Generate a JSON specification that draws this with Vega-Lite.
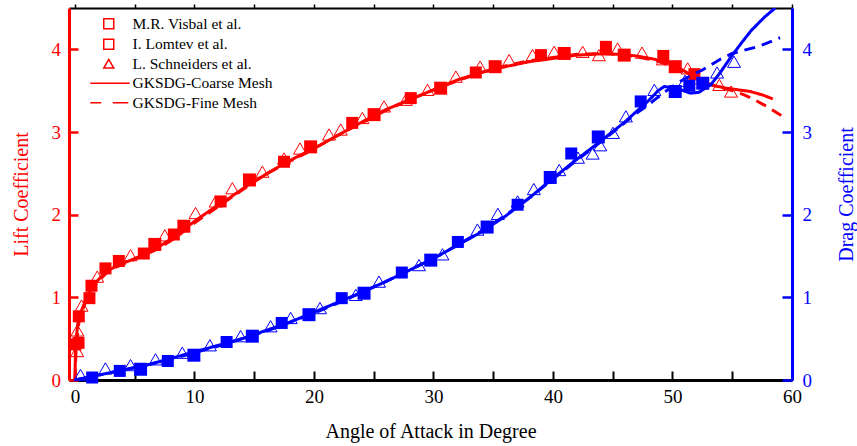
{
 "$schema": "https://vega.github.io/schema/vega-lite/v6.json",
 "width": 723, "height": 372,
 "autosize": {"type": "none"},
 "padding": {"left": 69, "top": 8, "right": 65, "bottom": 66},
 "background": "white",
 "config": {"view": {"stroke": null}, "font": "Liberation Serif",
  "axis": {"grid": false, "labelFont": "Liberation Serif", "titleFont": "Liberation Serif", "labelFontSize": 19, "titleFontSize": 20, "titleFontWeight": "normal", "labelFlush": false, "labelOverlap": false}},
 "data": {"values": [
  {"coef":"Lift","source":"M.R. Visbal et al.","aoa":0.04,"value":0.43},
  {"coef":"Lift","source":"M.R. Visbal et al.","aoa":0.3,"value":0.45},
  {"coef":"Lift","source":"M.R. Visbal et al.","aoa":0.32,"value":0.77},
  {"coef":"Lift","source":"M.R. Visbal et al.","aoa":1.21,"value":0.99},
  {"coef":"Lift","source":"M.R. Visbal et al.","aoa":1.38,"value":1.14},
  {"coef":"Lift","source":"M.R. Visbal et al.","aoa":2.55,"value":1.35},
  {"coef":"Lift","source":"M.R. Visbal et al.","aoa":3.67,"value":1.44},
  {"coef":"Lift","source":"M.R. Visbal et al.","aoa":5.76,"value":1.53},
  {"coef":"Lift","source":"M.R. Visbal et al.","aoa":8.27,"value":1.76},
  {"coef":"Lift","source":"M.R. Visbal et al.","aoa":12.19,"value":2.16},
  {"coef":"Lift","source":"M.R. Visbal et al.","aoa":17.49,"value":2.64},
  {"coef":"Lift","source":"M.R. Visbal et al.","aoa":23.2,"value":3.11},
  {"coef":"Lift","source":"M.R. Visbal et al.","aoa":28.1,"value":3.41},
  {"coef":"Lift","source":"M.R. Visbal et al.","aoa":33.54,"value":3.72},
  {"coef":"Lift","source":"M.R. Visbal et al.","aoa":38.99,"value":3.93},
  {"coef":"Lift","source":"M.R. Visbal et al.","aoa":44.43,"value":4.03},
  {"coef":"Lift","source":"M.R. Visbal et al.","aoa":49.23,"value":3.92},
  {"coef":"Lift","source":"M.R. Visbal et al.","aoa":51.83,"value":3.70},
  {"coef":"Lift","source":"I. Lomtev et al.","aoa":6.68,"value":1.64},
  {"coef":"Lift","source":"I. Lomtev et al.","aoa":9.11,"value":1.86},
  {"coef":"Lift","source":"I. Lomtev et al.","aoa":14.6,"value":2.42},
  {"coef":"Lift","source":"I. Lomtev et al.","aoa":19.72,"value":2.82},
  {"coef":"Lift","source":"I. Lomtev et al.","aoa":25.03,"value":3.21},
  {"coef":"Lift","source":"I. Lomtev et al.","aoa":30.6,"value":3.53},
  {"coef":"Lift","source":"I. Lomtev et al.","aoa":35.16,"value":3.79},
  {"coef":"Lift","source":"I. Lomtev et al.","aoa":40.94,"value":3.95},
  {"coef":"Lift","source":"I. Lomtev et al.","aoa":45.96,"value":3.93},
  {"coef":"Lift","source":"I. Lomtev et al.","aoa":50.23,"value":3.79},
  {"coef":"Lift","source":"L. Schneiders et al.","aoa":0.18,"value":0.35},
  {"coef":"Lift","source":"L. Schneiders et al.","aoa":0.2,"value":0.6},
  {"coef":"Lift","source":"L. Schneiders et al.","aoa":0.55,"value":0.9},
  {"coef":"Lift","source":"L. Schneiders et al.","aoa":1.86,"value":1.25},
  {"coef":"Lift","source":"L. Schneiders et al.","aoa":4.65,"value":1.51},
  {"coef":"Lift","source":"L. Schneiders et al.","aoa":7.52,"value":1.75},
  {"coef":"Lift","source":"L. Schneiders et al.","aoa":10.09,"value":2.02},
  {"coef":"Lift","source":"L. Schneiders et al.","aoa":11.77,"value":2.16},
  {"coef":"Lift","source":"L. Schneiders et al.","aoa":13.17,"value":2.32},
  {"coef":"Lift","source":"L. Schneiders et al.","aoa":15.68,"value":2.52},
  {"coef":"Lift","source":"L. Schneiders et al.","aoa":17.49,"value":2.68},
  {"coef":"Lift","source":"L. Schneiders et al.","aoa":18.83,"value":2.80},
  {"coef":"Lift","source":"L. Schneiders et al.","aoa":21.26,"value":2.97},
  {"coef":"Lift","source":"L. Schneiders et al.","aoa":22.24,"value":3.03},
  {"coef":"Lift","source":"L. Schneiders et al.","aoa":24.05,"value":3.17},
  {"coef":"Lift","source":"L. Schneiders et al.","aoa":25.86,"value":3.31},
  {"coef":"Lift","source":"L. Schneiders et al.","aoa":27.68,"value":3.39},
  {"coef":"Lift","source":"L. Schneiders et al.","aoa":29.5,"value":3.51},
  {"coef":"Lift","source":"L. Schneiders et al.","aoa":31.87,"value":3.67},
  {"coef":"Lift","source":"L. Schneiders et al.","aoa":33.9,"value":3.79},
  {"coef":"Lift","source":"L. Schneiders et al.","aoa":36.33,"value":3.87},
  {"coef":"Lift","source":"L. Schneiders et al.","aoa":38.29,"value":3.93},
  {"coef":"Lift","source":"L. Schneiders et al.","aoa":40.1,"value":3.97},
  {"coef":"Lift","source":"L. Schneiders et al.","aoa":42.48,"value":3.97},
  {"coef":"Lift","source":"L. Schneiders et al.","aoa":43.84,"value":3.93},
  {"coef":"Lift","source":"L. Schneiders et al.","aoa":45.41,"value":4.01},
  {"coef":"Lift","source":"L. Schneiders et al.","aoa":47.45,"value":3.96},
  {"coef":"Lift","source":"L. Schneiders et al.","aoa":49.18,"value":3.88},
  {"coef":"Lift","source":"L. Schneiders et al.","aoa":51.27,"value":3.77},
  {"coef":"Lift","source":"L. Schneiders et al.","aoa":52.05,"value":3.65},
  {"coef":"Lift","source":"L. Schneiders et al.","aoa":53.92,"value":3.57},
  {"coef":"Lift","source":"L. Schneiders et al.","aoa":54.9,"value":3.49},
  {"coef":"Lift","source":"GKSDG-Coarse Mesh","aoa":0,"value":0},
  {"coef":"Lift","source":"GKSDG-Coarse Mesh","aoa":0.05,"value":0.44},
  {"coef":"Lift","source":"GKSDG-Coarse Mesh","aoa":0.3,"value":0.75},
  {"coef":"Lift","source":"GKSDG-Coarse Mesh","aoa":0.9,"value":0.97},
  {"coef":"Lift","source":"GKSDG-Coarse Mesh","aoa":1.3,"value":1.1},
  {"coef":"Lift","source":"GKSDG-Coarse Mesh","aoa":2,"value":1.22},
  {"coef":"Lift","source":"GKSDG-Coarse Mesh","aoa":2.6,"value":1.31},
  {"coef":"Lift","source":"GKSDG-Coarse Mesh","aoa":3.5,"value":1.38},
  {"coef":"Lift","source":"GKSDG-Coarse Mesh","aoa":4.5,"value":1.44},
  {"coef":"Lift","source":"GKSDG-Coarse Mesh","aoa":5.5,"value":1.5},
  {"coef":"Lift","source":"GKSDG-Coarse Mesh","aoa":7,"value":1.61},
  {"coef":"Lift","source":"GKSDG-Coarse Mesh","aoa":8.5,"value":1.75},
  {"coef":"Lift","source":"GKSDG-Coarse Mesh","aoa":10,"value":1.92},
  {"coef":"Lift","source":"GKSDG-Coarse Mesh","aoa":11.5,"value":2.07},
  {"coef":"Lift","source":"GKSDG-Coarse Mesh","aoa":13,"value":2.21},
  {"coef":"Lift","source":"GKSDG-Coarse Mesh","aoa":14.5,"value":2.36},
  {"coef":"Lift","source":"GKSDG-Coarse Mesh","aoa":16,"value":2.49},
  {"coef":"Lift","source":"GKSDG-Coarse Mesh","aoa":17.5,"value":2.62},
  {"coef":"Lift","source":"GKSDG-Coarse Mesh","aoa":19,"value":2.73},
  {"coef":"Lift","source":"GKSDG-Coarse Mesh","aoa":20.5,"value":2.84},
  {"coef":"Lift","source":"GKSDG-Coarse Mesh","aoa":22,"value":2.96},
  {"coef":"Lift","source":"GKSDG-Coarse Mesh","aoa":24,"value":3.12},
  {"coef":"Lift","source":"GKSDG-Coarse Mesh","aoa":26,"value":3.27},
  {"coef":"Lift","source":"GKSDG-Coarse Mesh","aoa":28,"value":3.39},
  {"coef":"Lift","source":"GKSDG-Coarse Mesh","aoa":30,"value":3.51},
  {"coef":"Lift","source":"GKSDG-Coarse Mesh","aoa":32,"value":3.63},
  {"coef":"Lift","source":"GKSDG-Coarse Mesh","aoa":34,"value":3.72},
  {"coef":"Lift","source":"GKSDG-Coarse Mesh","aoa":36,"value":3.79},
  {"coef":"Lift","source":"GKSDG-Coarse Mesh","aoa":38,"value":3.85},
  {"coef":"Lift","source":"GKSDG-Coarse Mesh","aoa":40,"value":3.89},
  {"coef":"Lift","source":"GKSDG-Coarse Mesh","aoa":42,"value":3.93},
  {"coef":"Lift","source":"GKSDG-Coarse Mesh","aoa":44,"value":3.945},
  {"coef":"Lift","source":"GKSDG-Coarse Mesh","aoa":45.5,"value":3.94},
  {"coef":"Lift","source":"GKSDG-Coarse Mesh","aoa":47,"value":3.92},
  {"coef":"Lift","source":"GKSDG-Coarse Mesh","aoa":48.5,"value":3.88},
  {"coef":"Lift","source":"GKSDG-Coarse Mesh","aoa":49.5,"value":3.84},
  {"coef":"Lift","source":"GKSDG-Coarse Mesh","aoa":50.5,"value":3.78},
  {"coef":"Lift","source":"GKSDG-Coarse Mesh","aoa":51.3,"value":3.71},
  {"coef":"Lift","source":"GKSDG-Coarse Mesh","aoa":52,"value":3.65},
  {"coef":"Lift","source":"GKSDG-Coarse Mesh","aoa":52.7,"value":3.6},
  {"coef":"Lift","source":"GKSDG-Coarse Mesh","aoa":53.5,"value":3.56},
  {"coef":"Lift","source":"GKSDG-Coarse Mesh","aoa":54.5,"value":3.53},
  {"coef":"Lift","source":"GKSDG-Coarse Mesh","aoa":55.5,"value":3.51},
  {"coef":"Lift","source":"GKSDG-Coarse Mesh","aoa":56.5,"value":3.49},
  {"coef":"Lift","source":"GKSDG-Coarse Mesh","aoa":57.5,"value":3.45},
  {"coef":"Lift","source":"GKSDG-Coarse Mesh","aoa":58.4,"value":3.4},
  {"coef":"Lift","source":"GKSDG-Fine Mesh","aoa":0,"value":0},
  {"coef":"Lift","source":"GKSDG-Fine Mesh","aoa":0.1,"value":0.4},
  {"coef":"Lift","source":"GKSDG-Fine Mesh","aoa":0.35,"value":0.72},
  {"coef":"Lift","source":"GKSDG-Fine Mesh","aoa":0.9,"value":0.95},
  {"coef":"Lift","source":"GKSDG-Fine Mesh","aoa":1.3,"value":1.08},
  {"coef":"Lift","source":"GKSDG-Fine Mesh","aoa":2,"value":1.2},
  {"coef":"Lift","source":"GKSDG-Fine Mesh","aoa":2.6,"value":1.29},
  {"coef":"Lift","source":"GKSDG-Fine Mesh","aoa":3.5,"value":1.37},
  {"coef":"Lift","source":"GKSDG-Fine Mesh","aoa":4.5,"value":1.43},
  {"coef":"Lift","source":"GKSDG-Fine Mesh","aoa":5.5,"value":1.49},
  {"coef":"Lift","source":"GKSDG-Fine Mesh","aoa":7,"value":1.59},
  {"coef":"Lift","source":"GKSDG-Fine Mesh","aoa":8.5,"value":1.73},
  {"coef":"Lift","source":"GKSDG-Fine Mesh","aoa":10,"value":1.9},
  {"coef":"Lift","source":"GKSDG-Fine Mesh","aoa":11.5,"value":2.05},
  {"coef":"Lift","source":"GKSDG-Fine Mesh","aoa":13,"value":2.2},
  {"coef":"Lift","source":"GKSDG-Fine Mesh","aoa":14.5,"value":2.35},
  {"coef":"Lift","source":"GKSDG-Fine Mesh","aoa":16,"value":2.49},
  {"coef":"Lift","source":"GKSDG-Fine Mesh","aoa":17.5,"value":2.61},
  {"coef":"Lift","source":"GKSDG-Fine Mesh","aoa":19,"value":2.72},
  {"coef":"Lift","source":"GKSDG-Fine Mesh","aoa":20.5,"value":2.84},
  {"coef":"Lift","source":"GKSDG-Fine Mesh","aoa":22,"value":2.96},
  {"coef":"Lift","source":"GKSDG-Fine Mesh","aoa":24,"value":3.11},
  {"coef":"Lift","source":"GKSDG-Fine Mesh","aoa":26,"value":3.26},
  {"coef":"Lift","source":"GKSDG-Fine Mesh","aoa":28,"value":3.39},
  {"coef":"Lift","source":"GKSDG-Fine Mesh","aoa":30,"value":3.51},
  {"coef":"Lift","source":"GKSDG-Fine Mesh","aoa":32,"value":3.62},
  {"coef":"Lift","source":"GKSDG-Fine Mesh","aoa":34,"value":3.72},
  {"coef":"Lift","source":"GKSDG-Fine Mesh","aoa":36,"value":3.8},
  {"coef":"Lift","source":"GKSDG-Fine Mesh","aoa":38,"value":3.86},
  {"coef":"Lift","source":"GKSDG-Fine Mesh","aoa":40,"value":3.9},
  {"coef":"Lift","source":"GKSDG-Fine Mesh","aoa":42,"value":3.94},
  {"coef":"Lift","source":"GKSDG-Fine Mesh","aoa":44,"value":3.95},
  {"coef":"Lift","source":"GKSDG-Fine Mesh","aoa":45.5,"value":3.94},
  {"coef":"Lift","source":"GKSDG-Fine Mesh","aoa":47,"value":3.91},
  {"coef":"Lift","source":"GKSDG-Fine Mesh","aoa":48.5,"value":3.87},
  {"coef":"Lift","source":"GKSDG-Fine Mesh","aoa":49.5,"value":3.82},
  {"coef":"Lift","source":"GKSDG-Fine Mesh","aoa":50.5,"value":3.76},
  {"coef":"Lift","source":"GKSDG-Fine Mesh","aoa":51.3,"value":3.7},
  {"coef":"Lift","source":"GKSDG-Fine Mesh","aoa":52,"value":3.64},
  {"coef":"Lift","source":"GKSDG-Fine Mesh","aoa":53,"value":3.58},
  {"coef":"Lift","source":"GKSDG-Fine Mesh","aoa":54,"value":3.54},
  {"coef":"Lift","source":"GKSDG-Fine Mesh","aoa":55,"value":3.5},
  {"coef":"Lift","source":"GKSDG-Fine Mesh","aoa":56,"value":3.45},
  {"coef":"Lift","source":"GKSDG-Fine Mesh","aoa":57,"value":3.38},
  {"coef":"Lift","source":"GKSDG-Fine Mesh","aoa":58,"value":3.3},
  {"coef":"Lift","source":"GKSDG-Fine Mesh","aoa":59.1,"value":3.2},
  {"coef":"Drag","source":"M.R. Visbal et al.","aoa":1.44,"value":0.03},
  {"coef":"Drag","source":"M.R. Visbal et al.","aoa":3.75,"value":0.11},
  {"coef":"Drag","source":"M.R. Visbal et al.","aoa":7.77,"value":0.23},
  {"coef":"Drag","source":"M.R. Visbal et al.","aoa":12.69,"value":0.46},
  {"coef":"Drag","source":"M.R. Visbal et al.","aoa":17.3,"value":0.69},
  {"coef":"Drag","source":"M.R. Visbal et al.","aoa":22.32,"value":0.99},
  {"coef":"Drag","source":"M.R. Visbal et al.","aoa":27.35,"value":1.30},
  {"coef":"Drag","source":"M.R. Visbal et al.","aoa":32.04,"value":1.67},
  {"coef":"Drag","source":"M.R. Visbal et al.","aoa":37.04,"value":2.12},
  {"coef":"Drag","source":"M.R. Visbal et al.","aoa":41.53,"value":2.74},
  {"coef":"Drag","source":"M.R. Visbal et al.","aoa":47.34,"value":3.37},
  {"coef":"Drag","source":"M.R. Visbal et al.","aoa":51.41,"value":3.56},
  {"coef":"Drag","source":"I. Lomtev et al.","aoa":5.49,"value":0.13},
  {"coef":"Drag","source":"I. Lomtev et al.","aoa":9.95,"value":0.30},
  {"coef":"Drag","source":"I. Lomtev et al.","aoa":14.84,"value":0.53},
  {"coef":"Drag","source":"I. Lomtev et al.","aoa":19.58,"value":0.79},
  {"coef":"Drag","source":"I. Lomtev et al.","aoa":24.19,"value":1.05},
  {"coef":"Drag","source":"I. Lomtev et al.","aoa":29.77,"value":1.45},
  {"coef":"Drag","source":"I. Lomtev et al.","aoa":34.49,"value":1.85},
  {"coef":"Drag","source":"I. Lomtev et al.","aoa":39.77,"value":2.45},
  {"coef":"Drag","source":"I. Lomtev et al.","aoa":43.79,"value":2.94},
  {"coef":"Drag","source":"I. Lomtev et al.","aoa":50.23,"value":3.49},
  {"coef":"Drag","source":"I. Lomtev et al.","aoa":52.53,"value":3.59},
  {"coef":"Drag","source":"L. Schneiders et al.","aoa":0.46,"value":0.06},
  {"coef":"Drag","source":"L. Schneiders et al.","aoa":2.55,"value":0.14},
  {"coef":"Drag","source":"L. Schneiders et al.","aoa":4.65,"value":0.18},
  {"coef":"Drag","source":"L. Schneiders et al.","aoa":6.74,"value":0.25},
  {"coef":"Drag","source":"L. Schneiders et al.","aoa":8.98,"value":0.33},
  {"coef":"Drag","source":"L. Schneiders et al.","aoa":11.29,"value":0.42},
  {"coef":"Drag","source":"L. Schneiders et al.","aoa":13.86,"value":0.53},
  {"coef":"Drag","source":"L. Schneiders et al.","aoa":16.37,"value":0.65},
  {"coef":"Drag","source":"L. Schneiders et al.","aoa":18.05,"value":0.75},
  {"coef":"Drag","source":"L. Schneiders et al.","aoa":20.5,"value":0.87},
  {"coef":"Drag","source":"L. Schneiders et al.","aoa":23.5,"value":1.03},
  {"coef":"Drag","source":"L. Schneiders et al.","aoa":25.44,"value":1.19},
  {"coef":"Drag","source":"L. Schneiders et al.","aoa":28.79,"value":1.39},
  {"coef":"Drag","source":"L. Schneiders et al.","aoa":30.75,"value":1.52},
  {"coef":"Drag","source":"L. Schneiders et al.","aoa":33.68,"value":1.82},
  {"coef":"Drag","source":"L. Schneiders et al.","aoa":35.39,"value":2.01},
  {"coef":"Drag","source":"L. Schneiders et al.","aoa":37.04,"value":2.16},
  {"coef":"Drag","source":"L. Schneiders et al.","aoa":38.4,"value":2.31},
  {"coef":"Drag","source":"L. Schneiders et al.","aoa":40.52,"value":2.54},
  {"coef":"Drag","source":"L. Schneiders et al.","aoa":42.09,"value":2.69},
  {"coef":"Drag","source":"L. Schneiders et al.","aoa":43.32,"value":2.74},
  {"coef":"Drag","source":"L. Schneiders et al.","aoa":43.95,"value":2.84},
  {"coef":"Drag","source":"L. Schneiders et al.","aoa":45.02,"value":2.99},
  {"coef":"Drag","source":"L. Schneiders et al.","aoa":46.1,"value":3.19},
  {"coef":"Drag","source":"L. Schneiders et al.","aoa":48.48,"value":3.51},
  {"coef":"Drag","source":"L. Schneiders et al.","aoa":51.05,"value":3.62},
  {"coef":"Drag","source":"L. Schneiders et al.","aoa":53.73,"value":3.72},
  {"coef":"Drag","source":"L. Schneiders et al.","aoa":55.15,"value":3.85},
  {"coef":"Drag","source":"GKSDG-Coarse Mesh","aoa":0,"value":0},
  {"coef":"Drag","source":"GKSDG-Coarse Mesh","aoa":2,"value":0.06},
  {"coef":"Drag","source":"GKSDG-Coarse Mesh","aoa":4,"value":0.12},
  {"coef":"Drag","source":"GKSDG-Coarse Mesh","aoa":6,"value":0.18},
  {"coef":"Drag","source":"GKSDG-Coarse Mesh","aoa":8,"value":0.26},
  {"coef":"Drag","source":"GKSDG-Coarse Mesh","aoa":10,"value":0.34},
  {"coef":"Drag","source":"GKSDG-Coarse Mesh","aoa":12,"value":0.42},
  {"coef":"Drag","source":"GKSDG-Coarse Mesh","aoa":14,"value":0.5},
  {"coef":"Drag","source":"GKSDG-Coarse Mesh","aoa":16,"value":0.6},
  {"coef":"Drag","source":"GKSDG-Coarse Mesh","aoa":18,"value":0.7},
  {"coef":"Drag","source":"GKSDG-Coarse Mesh","aoa":20,"value":0.82},
  {"coef":"Drag","source":"GKSDG-Coarse Mesh","aoa":22,"value":0.94},
  {"coef":"Drag","source":"GKSDG-Coarse Mesh","aoa":24,"value":1.06},
  {"coef":"Drag","source":"GKSDG-Coarse Mesh","aoa":26,"value":1.19},
  {"coef":"Drag","source":"GKSDG-Coarse Mesh","aoa":28,"value":1.33},
  {"coef":"Drag","source":"GKSDG-Coarse Mesh","aoa":30,"value":1.47},
  {"coef":"Drag","source":"GKSDG-Coarse Mesh","aoa":32,"value":1.63},
  {"coef":"Drag","source":"GKSDG-Coarse Mesh","aoa":34,"value":1.79},
  {"coef":"Drag","source":"GKSDG-Coarse Mesh","aoa":36,"value":1.98},
  {"coef":"Drag","source":"GKSDG-Coarse Mesh","aoa":38,"value":2.2},
  {"coef":"Drag","source":"GKSDG-Coarse Mesh","aoa":40,"value":2.44},
  {"coef":"Drag","source":"GKSDG-Coarse Mesh","aoa":42,"value":2.67},
  {"coef":"Drag","source":"GKSDG-Coarse Mesh","aoa":44,"value":2.89},
  {"coef":"Drag","source":"GKSDG-Coarse Mesh","aoa":46,"value":3.12},
  {"coef":"Drag","source":"GKSDG-Coarse Mesh","aoa":47,"value":3.25},
  {"coef":"Drag","source":"GKSDG-Coarse Mesh","aoa":48,"value":3.38},
  {"coef":"Drag","source":"GKSDG-Coarse Mesh","aoa":48.8,"value":3.5},
  {"coef":"Drag","source":"GKSDG-Coarse Mesh","aoa":49.3,"value":3.55},
  {"coef":"Drag","source":"GKSDG-Coarse Mesh","aoa":50.3,"value":3.53},
  {"coef":"Drag","source":"GKSDG-Coarse Mesh","aoa":51.5,"value":3.47},
  {"coef":"Drag","source":"GKSDG-Coarse Mesh","aoa":52.2,"value":3.48},
  {"coef":"Drag","source":"GKSDG-Coarse Mesh","aoa":53.2,"value":3.57},
  {"coef":"Drag","source":"GKSDG-Coarse Mesh","aoa":54,"value":3.72},
  {"coef":"Drag","source":"GKSDG-Coarse Mesh","aoa":55,"value":3.93},
  {"coef":"Drag","source":"GKSDG-Coarse Mesh","aoa":56,"value":4.12},
  {"coef":"Drag","source":"GKSDG-Coarse Mesh","aoa":56.6,"value":4.23},
  {"coef":"Drag","source":"GKSDG-Coarse Mesh","aoa":57.7,"value":4.39},
  {"coef":"Drag","source":"GKSDG-Coarse Mesh","aoa":58.6,"value":4.5},
  {"coef":"Drag","source":"GKSDG-Fine Mesh","aoa":0,"value":0},
  {"coef":"Drag","source":"GKSDG-Fine Mesh","aoa":2,"value":0.06},
  {"coef":"Drag","source":"GKSDG-Fine Mesh","aoa":4,"value":0.12},
  {"coef":"Drag","source":"GKSDG-Fine Mesh","aoa":6,"value":0.18},
  {"coef":"Drag","source":"GKSDG-Fine Mesh","aoa":8,"value":0.25},
  {"coef":"Drag","source":"GKSDG-Fine Mesh","aoa":10,"value":0.33},
  {"coef":"Drag","source":"GKSDG-Fine Mesh","aoa":12,"value":0.41},
  {"coef":"Drag","source":"GKSDG-Fine Mesh","aoa":14,"value":0.5},
  {"coef":"Drag","source":"GKSDG-Fine Mesh","aoa":16,"value":0.59},
  {"coef":"Drag","source":"GKSDG-Fine Mesh","aoa":18,"value":0.7},
  {"coef":"Drag","source":"GKSDG-Fine Mesh","aoa":20,"value":0.81},
  {"coef":"Drag","source":"GKSDG-Fine Mesh","aoa":22,"value":0.93},
  {"coef":"Drag","source":"GKSDG-Fine Mesh","aoa":24,"value":1.06},
  {"coef":"Drag","source":"GKSDG-Fine Mesh","aoa":26,"value":1.19},
  {"coef":"Drag","source":"GKSDG-Fine Mesh","aoa":28,"value":1.33},
  {"coef":"Drag","source":"GKSDG-Fine Mesh","aoa":30,"value":1.47},
  {"coef":"Drag","source":"GKSDG-Fine Mesh","aoa":32,"value":1.63},
  {"coef":"Drag","source":"GKSDG-Fine Mesh","aoa":34,"value":1.8},
  {"coef":"Drag","source":"GKSDG-Fine Mesh","aoa":36,"value":1.99},
  {"coef":"Drag","source":"GKSDG-Fine Mesh","aoa":38,"value":2.2},
  {"coef":"Drag","source":"GKSDG-Fine Mesh","aoa":40,"value":2.43},
  {"coef":"Drag","source":"GKSDG-Fine Mesh","aoa":42,"value":2.66},
  {"coef":"Drag","source":"GKSDG-Fine Mesh","aoa":44,"value":2.88},
  {"coef":"Drag","source":"GKSDG-Fine Mesh","aoa":46,"value":3.11},
  {"coef":"Drag","source":"GKSDG-Fine Mesh","aoa":47,"value":3.23},
  {"coef":"Drag","source":"GKSDG-Fine Mesh","aoa":48,"value":3.33},
  {"coef":"Drag","source":"GKSDG-Fine Mesh","aoa":48.6,"value":3.4},
  {"coef":"Drag","source":"GKSDG-Fine Mesh","aoa":49.5,"value":3.5},
  {"coef":"Drag","source":"GKSDG-Fine Mesh","aoa":50.5,"value":3.6},
  {"coef":"Drag","source":"GKSDG-Fine Mesh","aoa":51.5,"value":3.68},
  {"coef":"Drag","source":"GKSDG-Fine Mesh","aoa":52.5,"value":3.75},
  {"coef":"Drag","source":"GKSDG-Fine Mesh","aoa":53.2,"value":3.81},
  {"coef":"Drag","source":"GKSDG-Fine Mesh","aoa":54,"value":3.88},
  {"coef":"Drag","source":"GKSDG-Fine Mesh","aoa":55,"value":3.95},
  {"coef":"Drag","source":"GKSDG-Fine Mesh","aoa":56,"value":3.99},
  {"coef":"Drag","source":"GKSDG-Fine Mesh","aoa":57.1,"value":4.03},
  {"coef":"Drag","source":"GKSDG-Fine Mesh","aoa":58,"value":4.08},
  {"coef":"Drag","source":"GKSDG-Fine Mesh","aoa":59,"value":4.14}
 ]},
 "resolve": {"scale": {"y": "independent"}, "axis": {"x": "independent"}},
 "layer": [
  {
   "transform": [{"filter": "datum.coef === 'Lift'"}],
   "encoding": {
    "x": {"field": "aoa", "type": "quantitative", "scale": {"domain": [-0.5, 60], "nice": false, "zero": false},
     "axis": {"orient": "bottom", "title": "Angle of Attack in Degree", "values": [0,5,10,15,20,25,30,35,40,45,50,55,60],
      "format": "d", "labelExpr": "datum.value % 10 === 0 ? datum.label : ''",
      "ticks": true, "tickSize": -9,
      "tickWidth": 2, "tickColor": "black", "domainColor": "black", "domainWidth": 3,
      "labelColor": "black", "titleColor": "black", "labelPadding": 16.5, "titlePadding": 15}},
    "y": {"field": "value", "type": "quantitative", "scale": {"domain": [0, 4.5], "nice": false, "zero": true},
     "axis": {"orient": "left", "title": "Lift Coefficient", "values": [0,0.5,1,1.5,2,2.5,3,3.5,4],
      "format": "d", "labelExpr": "datum.value % 1 === 0 ? datum.label : ''",
      "ticks": true, "tickSize": -9,
      "tickWidth": 2.5, "tickColor": "#ff0000", "domainColor": "#ff0000", "domainWidth": 3,
      "labelColor": "#ff0000", "titleColor": "#ff0000", "labelPadding": 17.5, "titlePadding": 20}}
   },
   "layer": [
    {"transform": [{"filter": "datum.source === 'L. Schneiders et al.'"}],
     "mark": {"type": "point", "filled": false, "color": "#ff0000", "strokeWidth": 1, "size": 169, "opacity": 1},
     "encoding": {"shape": {"field": "source", "type": "nominal",
      "scale": {"domain": ["M.R. Visbal et al.","I. Lomtev et al.","L. Schneiders et al.","GKSDG-Coarse Mesh","GKSDG-Fine Mesh"],
                "range": ["square","square","triangle-up","M-3.7,0L4.2,0","M-3.7,0L-1.5,0M0.8,0L3.9,0"]}}}},
    {"transform": [{"filter": "datum.source === 'GKSDG-Coarse Mesh' || datum.source === 'GKSDG-Fine Mesh'"}],
     "mark": {"type": "line", "color": "#ff0000", "strokeWidth": 3},
     "encoding": {"strokeDash": {"field": "source", "type": "nominal",
      "scale": {"domain": ["GKSDG-Coarse Mesh","GKSDG-Fine Mesh"], "range": [[1,0],[11,7]]}, "legend": null}}},
    {"transform": [{"filter": "datum.source === 'M.R. Visbal et al.' || datum.source === 'I. Lomtev et al.'"}],
     "mark": {"type": "point", "filled": true, "color": "#ff0000", "opacity": 1},
     "encoding": {
      "shape": {"field": "source", "type": "nominal",
       "scale": {"domain": ["M.R. Visbal et al.","I. Lomtev et al.","L. Schneiders et al.","GKSDG-Coarse Mesh","GKSDG-Fine Mesh"],
                 "range": ["square","square","triangle-up","M-3.7,0L4.2,0","M-3.7,0L-1.5,0M0.8,0L3.9,0"]},
       "legend": {"title": null, "orient": "none", "legendX": 32, "legendY": 8, "padding": 0,
        "labelFont": "Liberation Serif", "labelFontSize": 15.5, "labelColor": "black", "symbolSize": 100,
        "rowPadding": 2.5, "labelOffset": 16,
        "encode": {"symbols": {"update": {
          "fill": [{"test": "datum.value === 'L. Schneiders et al.' || datum.value === 'GKSDG-Coarse Mesh' || datum.value === 'GKSDG-Fine Mesh'", "value": "transparent"}, {"value": "#ff0000"}],
          "stroke": {"value": "#ff0000"},
          "strokeWidth": [{"test": "datum.value === 'GKSDG-Coarse Mesh' || datum.value === 'GKSDG-Fine Mesh'", "value": 3}, {"test": "datum.value === 'L. Schneiders et al.'", "value": 1}, {"value": 0}],
          "size": [{"test": "datum.value === 'I. Lomtev et al.'", "value": 169}, {"test": "datum.value === 'L. Schneiders et al.'", "value": 225}, {"value": 100}],
          "opacity": {"value": 1}}}}}},
      "size": {"condition": {"test": "datum.source === 'I. Lomtev et al.'", "value": 169}, "value": 144}}}
   ]
  },
  {
   "transform": [{"filter": "datum.coef === 'Drag'"}],
   "encoding": {
    "x": {"field": "aoa", "type": "quantitative", "scale": {"domain": [-0.5, 60], "nice": false, "zero": false},
     "axis": {"orient": "top", "title": null, "labels": false, "values": [0,5,10,15,20,25,30,35,40,45,50,55,60],
      "ticks": true, "tickSize": 4, "tickWidth": 1.5, "tickColor": "black", "domainColor": "black", "domainWidth": 2}},
    "y": {"field": "value", "type": "quantitative", "scale": {"domain": [0, 4.5], "nice": false, "zero": true},
     "axis": {"orient": "right", "title": "Drag Coefficient", "values": [0,0.5,1,1.5,2,2.5,3,3.5,4],
      "format": "d", "labelExpr": "datum.value % 1 === 0 ? datum.label : ''",
      "ticks": true, "tickSize": -10,
      "tickDash": {"condition": {"test": "datum.value % 1 === 0", "value": [1,0]}, "value": [6,20]},
      "tickWidth": 2.5, "tickColor": "#0000ff", "domainColor": "#0000ff", "domainWidth": 3,
      "labelColor": "#0000ff", "titleColor": "#0000ff", "labelPadding": 20, "titlePadding": 25,
      "titleAngle": 270, "titleBaseline": "top"}}
   },
   "layer": [
    {"transform": [{"filter": "datum.source === 'L. Schneiders et al.'"}],
     "mark": {"type": "point", "filled": false, "color": "#0000ff", "strokeWidth": 1, "size": 169, "opacity": 1},
     "encoding": {"shape": {"field": "source", "type": "nominal",
      "scale": {"domain": ["M.R. Visbal et al.","I. Lomtev et al.","L. Schneiders et al.","GKSDG-Coarse Mesh","GKSDG-Fine Mesh"],
                "range": ["square","square","triangle-up","M-3.7,0L4.2,0","M-3.7,0L-1.5,0M0.8,0L3.9,0"]}}}},
    {"transform": [{"filter": "datum.source === 'GKSDG-Coarse Mesh' || datum.source === 'GKSDG-Fine Mesh'"}],
     "mark": {"type": "line", "color": "#0000ff", "strokeWidth": 3, "clip": true},
     "encoding": {"strokeDash": {"field": "source", "type": "nominal",
      "scale": {"domain": ["GKSDG-Coarse Mesh","GKSDG-Fine Mesh"], "range": [[1,0],[11,7]]}, "legend": null}}},
    {"transform": [{"filter": "datum.source === 'M.R. Visbal et al.' || datum.source === 'I. Lomtev et al.'"}],
     "mark": {"type": "point", "filled": true, "color": "#0000ff", "opacity": 1},
     "encoding": {
      "shape": {"field": "source", "type": "nominal",
       "scale": {"domain": ["M.R. Visbal et al.","I. Lomtev et al.","L. Schneiders et al.","GKSDG-Coarse Mesh","GKSDG-Fine Mesh"],
                 "range": ["square","square","triangle-up","M-3.7,0L4.2,0","M-3.7,0L-1.5,0M0.8,0L3.9,0"]}},
      "size": {"condition": {"test": "datum.source === 'I. Lomtev et al.'", "value": 169}, "value": 144}}}
   ]
  }
 ]
}
